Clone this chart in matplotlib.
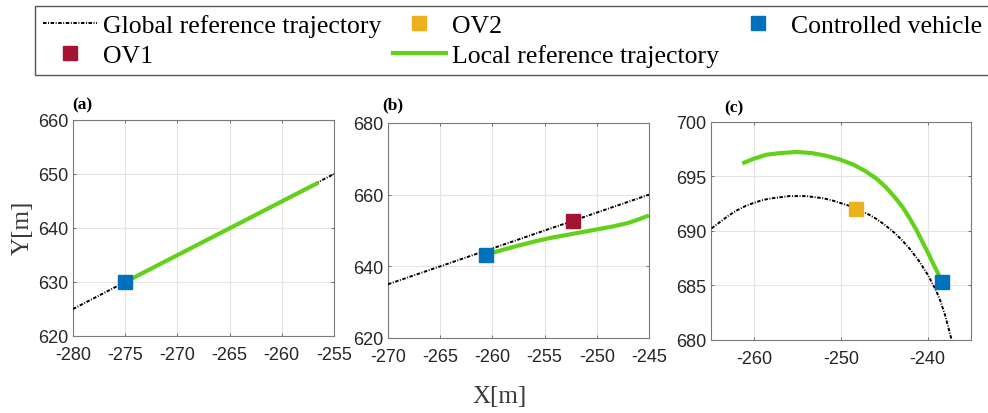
import matplotlib
matplotlib.use("Agg")
import matplotlib.pyplot as plt
from matplotlib.lines import Line2D

# ---- trajectories and vehicle positions for the three scenes ----
# (a) straight road, no obstacle vehicle
a_global_x = [-280.0, -255.0]
a_global_y = [625.0, 650.0]
a_local_x = [-275.0, -256.5]
a_local_y = [630.0, 648.4]
a_ego = (-275.0, 630.0)

# (b) overtaking OV1
b_global_x = [-270.0, -245.0]
b_global_y = [635.0, 660.0]
b_local_x = [-260.6, -259.0, -257.5, -256.0, -254.5, -253.0, -251.5,
             -250.0, -248.5, -247.0, -245.9, -245.0]
b_local_y = [643.3, 644.6, 645.8, 646.9, 647.9, 648.7, 649.5,
             650.3, 651.1, 652.1, 653.2, 654.2]
b_ego = (-260.6, 643.2)
b_ov1 = (-252.3, 652.6)

# (c) curved road with OV2 ahead
c_global_x = [-265.6, -265.0, -264.0, -263.0, -262.0, -261.0, -260.0, -259.0,
              -258.0, -257.0, -256.0, -255.0, -254.0, -253.0, -252.0, -251.0,
              -250.0, -249.0, -248.0, -247.0, -246.0, -245.0, -244.0, -243.0,
              -242.0, -241.0, -240.0, -239.5, -239.0, -238.5, -238.0, -237.6,
              -237.2]
c_global_y = [689.8, 690.2, 690.8, 691.4, 691.9, 692.3, 692.6, 692.85,
              693.0, 693.1, 693.2, 693.2, 693.2, 693.1, 693.0, 692.8,
              692.55, 692.3, 691.95, 691.6, 691.15, 690.6, 689.95, 689.2,
              688.3, 687.25, 686.0, 685.25, 684.5, 683.5, 682.3, 681.1,
              679.9]
c_local_x = [-261.4, -260.0, -258.6, -257.0, -255.1, -253.4, -251.7, -250.1,
             -248.6, -247.2, -245.9, -244.8, -243.8, -242.9, -242.1, -241.3,
             -240.6, -239.9, -239.3, -238.8, -238.3]
c_local_y = [696.2, 696.65, 697.0, 697.15, 697.25, 697.15, 696.9, 696.55,
             696.1, 695.5, 694.8, 694.0, 693.1, 692.2, 691.2, 690.1,
             689.0, 687.9, 686.9, 686.1, 685.3]
c_ego = (-238.3, 685.3)
c_ov2 = (-248.3, 692.0)

BLUE, YELLOW, RED, GREEN = "#0072BD", "#EDB120", "#A2142F", "#62D11A"
DASHDOT = (0, (1.8, 0.8, 0.5, 0.8))
TICKC = "#262626"
SERIF = "Liberation Serif"

plt.rcParams["font.family"] = "Liberation Sans"
plt.rcParams["axes.unicode_minus"] = False

fig = plt.figure(figsize=(9.88, 4.14), dpi=100)

panels = [
    dict(rect=[73, 121, 334, 337], xlim=(-280, -255), ylim=(620, 660),
         xt=range(-280, -254, 5), yt=range(620, 661, 10),
         gx=a_global_x, gy=a_global_y, lx=a_local_x, ly=a_local_y,
         ov=None, ego=a_ego, tag="(a)", tagx=72, tagy=105),
    dict(rect=[388, 124, 649, 339], xlim=(-270, -245), ylim=(620, 680),
         xt=range(-270, -244, 5), yt=range(620, 681, 20),
         gx=b_global_x, gy=b_global_y, lx=b_local_x, ly=b_local_y,
         ov=(b_ov1, RED), ego=b_ego, tag="(b)", tagx=382, tagy=105),
    dict(rect=[711, 123, 971, 341], xlim=(-265, -235), ylim=(680, 700),
         xt=range(-260, -239, 10), yt=range(680, 701, 5),
         gx=c_global_x, gy=c_global_y, lx=c_local_x, ly=c_local_y,
         ov=(c_ov2, YELLOW), ego=c_ego, tag="(c)", tagx=724, tagy=108),
]

W, H = 988.0, 414.0
for p in panels:
    l, t, r, b = p["rect"]
    ax = fig.add_axes([l / W, 1 - b / H, (r - l) / W, (b - t) / H])
    ax.plot(p["gx"], p["gy"], color="black", lw=1.4, linestyle=DASHDOT, zorder=3)
    ax.plot(p["lx"], p["ly"], color=GREEN, lw=3, solid_capstyle="butt",
            solid_joinstyle="round", zorder=4)
    if p["ov"] is not None:
        (ox, oy), col = p["ov"]
        ax.plot([ox], [oy], "s", ms=10, color=col, mec=col, zorder=5)
    ex, ey = p["ego"]
    ax.plot([ex], [ey], "s", ms=10, color=BLUE, mec=BLUE, zorder=6)
    ax.set_xlim(*p["xlim"])
    ax.set_ylim(*p["ylim"])
    ax.set_xticks(list(p["xt"]))
    ax.set_yticks(list(p["yt"]))
    ax.grid(True, color="#e3e3e3", lw=0.8)
    ax.set_axisbelow(True)
    ax.tick_params(direction="in", length=2.5, width=0.7, colors="#6e6e6e",
                   labelcolor=TICKC, labelsize=13, top=True, right=True)
    ax.tick_params(axis="x", pad=7)
    ax.tick_params(axis="y", pad=3.5)
    for s in ax.spines.values():
        s.set_color("#7a7a7a")
        s.set_linewidth(0.8)
    fig.text(p["tagx"] / W, 1 - p["tagy"] / H, p["tag"], family=SERIF,
             fontweight="bold", fontsize=12.5, ha="left", va="center", color="black")

fig.text(500 / W, 1 - 397 / H, "X[m]", family=SERIF, fontsize=18,
         color="#3a3a3a", ha="center", va="center")
fig.text(23 / W, 1 - 228 / H, "Y[m]", family=SERIF, fontsize=18,
         color="#3a3a3a", ha="center", va="center", rotation=90)

handles = [
    Line2D([], [], color="black", lw=1.4, linestyle=DASHDOT),
    Line2D([], [], marker="s", ls="none", ms=10, color=RED),
    Line2D([], [], marker="s", ls="none", ms=10, color=YELLOW),
    Line2D([], [], color=GREEN, lw=3),
    Line2D([], [], marker="s", ls="none", ms=10, color=BLUE),
]
labels = ["Global reference trajectory", "OV1", "OV2",
          "Local reference trajectory", "Controlled vehicle"]
leg = fig.legend(handles, labels, ncol=3, loc="upper left",
                 bbox_to_anchor=(35 / W, 1 - 7 / H), borderaxespad=0,
                 prop=dict(family=SERIF, size=18.5), frameon=True,
                 fancybox=False, framealpha=1, edgecolor="#555555",
                 handlelength=2.1, handletextpad=0.23, columnspacing=0.45,
                 labelspacing=0.3, borderpad=0.3)
leg.get_frame().set_linewidth(1.0)

fig.savefig("out.png", dpi=100)
